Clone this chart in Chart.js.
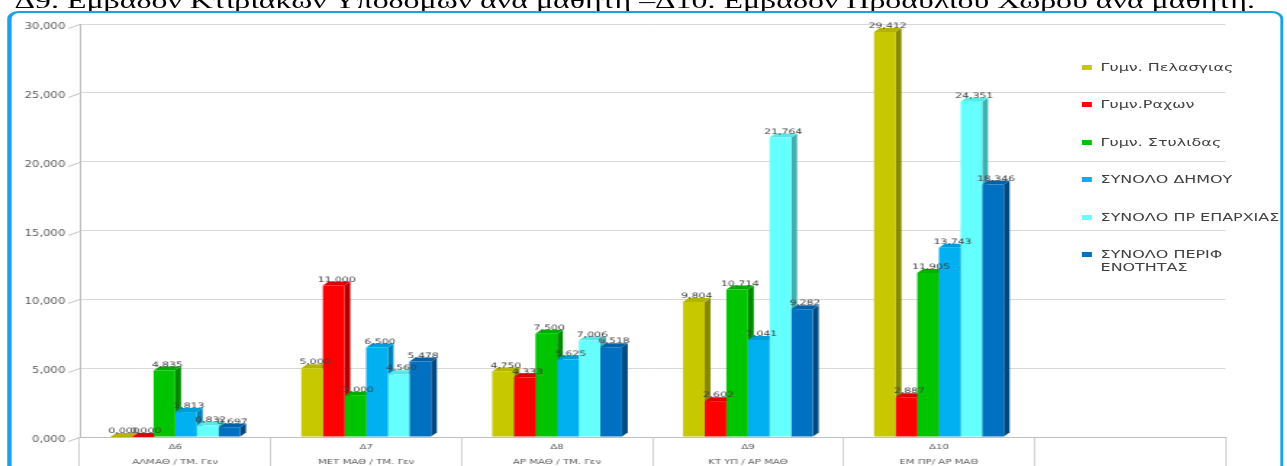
<!DOCTYPE html>
<html>
<head>
<meta charset="utf-8">
<script src="https://cdn.jsdelivr.net/npm/chart.js@4"></script>
<style>
  html, body { margin: 0; padding: 0; background: #fff; overflow: hidden; }
  #wrap { position: absolute; left: 0; top: 0; width: 888px; height: 466px;
          transform: scaleX(1.45); transform-origin: 0 0; }
  #title { position: absolute; left: 10px; top: -10px; white-space: nowrap;
           font-family: "Liberation Serif", serif; font-size: 22px; line-height: 22px; color: #000; }
  #frame { position: absolute; left: 5px; top: 11px; width: 875px; height: 520px;
           border: 2px solid #1ca0e6; border-left-width: 3px; border-radius: 8px; background: #fff; }
  #chart { position: absolute; left: 0; top: 0; }
  #legend { position: absolute; left: 746px; top: 61px; font-family: "DejaVu Sans", sans-serif;
            font-size: 11px; line-height: 13px; color: #404040; }
  .item { position: relative; height: 37.4px; padding-left: 13px; white-space: pre-line; }
  .mark { position: absolute; left: 0; top: 4px; width: 7px; height: 5px; }
</style>
</head>
<body>
<div id="wrap">
  <div id="title">Δ9. Εμβαδόν Κτιριακών Υποδομών ανά μαθητή –Δ10. Εμβαδόν Προαύλιου Χώρου ανά μαθητή.</div>
  <div id="frame"></div>
  <canvas id="chart" width="888" height="497"></canvas>
  <div id="legend"></div>
</div>
<script>
// categories (last slot is an empty box in the original)
const categories = [
    ['Δ6', 'ΑΛΜΑΘ / ΤΜ. Γεν'],
    ['Δ7', 'ΜΕΤ ΜΑΘ / ΤΜ. Γεν'],
    ['Δ8', 'ΑΡ ΜΑΘ / ΤΜ. Γεν'],
    ['Δ9', 'ΚΤ ΥΠ / ΑΡ ΜΑΘ'],
    ['Δ10', 'ΕΜ ΠΡ/ ΑΡ ΜΑΘ'],
    ['', '']
];
const seriesNames = ['Γυμν. Πελασγιας', 'Γυμν.Ραχων', 'Γυμν. Στυλιδας',
                     'ΣΥΝΟΛΟ ΔΗΜΟΥ', 'ΣΥΝΟΛΟ ΠΡ ΕΠΑΡΧΙΑΣ', 'ΣΥΝΟΛΟ ΠΕΡΙΦ\nΕΝΟΤΗΤΑΣ'];

const pelasgias = [0.000, 5.000, 4.750, 9.804, 29.412];
const rachon    = [0.000, 11.000, 4.333, 2.602, 2.887];
const stylidas  = [4.835, 3.000, 7.500, 10.714, 11.905];
const dimou     = [1.813, 6.500, 5.625, 7.041, 13.743];
const eparchias = [0.832, 4.560, 7.006, 21.764, 24.351];
const perif     = [0.697, 5.478, 6.518, 9.282, 18.346];

const yTicks = [0, 5, 10, 15, 20, 25, 30];

const frontColors = ['#c8c800', '#ff0000', '#00c400', '#00b0f0', '#66ffff', '#0070c0'];
const sideColors  = ['#878700', '#b00000', '#008a00', '#0082b4', '#3fb0b0', '#00487e'];
const topColors   = ['#b4b400', '#e00000', '#00ae00', '#009cd8', '#58e6e6', '#0062aa'];

const fmt = v => v.toFixed(3).replace('.', ',');
const DX = 4, DY = 4;

// fake 3D: side + top faces behind the flat bars, value labels on top
const bar3d = {
    id: 'bar3d',
    beforeDatasetsDraw(chart) {
        const ctx = chart.ctx;
        const ys = chart.scales.y, left = chart.chartArea.left;
        // slanted tick marks from the labels to the back wall
        ctx.save();
        ctx.strokeStyle = '#bfbfbf';
        ctx.lineWidth = 1;
        yTicks.forEach(v => {
            const py = Math.round(ys.getPixelForValue(v)) + 0.5;
            ctx.beginPath();
            ctx.moveTo(left - 8, py + 4);
            ctx.lineTo(left, py);
            ctx.stroke();
        });
        ctx.restore();
        chart.data.datasets.forEach((ds, di) => {
            chart.getDatasetMeta(di).data.forEach(bar => {
                const p = bar.getProps(['x', 'y', 'base', 'width'], true);
                const l = p.x - p.width / 2, r = p.x + p.width / 2;
                ctx.fillStyle = sideColors[di];
                ctx.beginPath();
                ctx.moveTo(r, p.y); ctx.lineTo(r + DX, p.y - DY);
                ctx.lineTo(r + DX, p.base - DY); ctx.lineTo(r, p.base);
                ctx.closePath(); ctx.fill();
                ctx.fillStyle = topColors[di];
                ctx.beginPath();
                ctx.moveTo(l, p.y); ctx.lineTo(l + DX, p.y - DY);
                ctx.lineTo(r + DX, p.y - DY); ctx.lineTo(r, p.y);
                ctx.closePath(); ctx.fill();
            });
        });
    },
    afterDatasetsDraw(chart) {
        const ctx = chart.ctx;
        ctx.save();
        ctx.font = '7.5px "DejaVu Sans"';
        ctx.fillStyle = '#404040';
        ctx.textAlign = 'center';
        ctx.textBaseline = 'bottom';
        chart.data.datasets.forEach((ds, di) => {
            chart.getDatasetMeta(di).data.forEach((bar, i) => {
                const v = ds.data[i];
                if (v == null) return;
                ctx.fillText(fmt(v), bar.x + DX / 2, bar.y - 2);
            });
        });
        ctx.restore();
    }
};

const seriesData = [pelasgias, rachon, stylidas, dimou, eparchias, perif];

const chart = new Chart(document.getElementById('chart').getContext('2d'), {
    type: 'bar',
    data: {
        labels: categories,
        datasets: seriesData.map((d, i) => ({
            label: seriesNames[i],
            data: d,
            backgroundColor: frontColors[i],
            borderWidth: 0,
            categoryPercentage: 0.68,
            barPercentage: 1.0
        }))
    },
    options: {
        responsive: false,
        animation: false,
        layout: { padding: { left: 0, right: 43, top: 24, bottom: 0 } },
        plugins: { legend: { display: false }, tooltip: { enabled: false } },
        scales: {
            x: {
                offset: true,
                grid: { offset: true, drawOnChartArea: false, tickLength: 30, color: '#d0d0d0' },
                border: { display: true, color: '#bfbfbf' },
                ticks: { padding: -27, autoSkip: false, maxRotation: 0, color: '#595959',
                         font: { family: 'DejaVu Sans', size: 7, lineHeight: 2.1 } },
                afterFit: s => { s.height = 60; }
            },
            y: {
                min: 0, max: 30,
                afterBuildTicks: s => { s.ticks = yTicks.map(v => ({ value: v })); },
                grid: { color: '#d9d9d9', drawTicks: false },
                border: { display: true, color: '#bfbfbf' },
                ticks: { padding: 10, labelOffset: 3, color: '#595959', callback: v => fmt(v),
                         font: { family: 'DejaVu Sans', size: 8 } },
                afterFit: s => { s.width = 55; }
            }
        }
    },
    plugins: [bar3d]
});

// legend built from the datasets
const legend = document.getElementById('legend');
chart.data.datasets.forEach(ds => {
    const item = document.createElement('div');
    item.className = 'item';
    const mark = document.createElement('span');
    mark.className = 'mark';
    mark.style.background = ds.backgroundColor;
    item.appendChild(mark);
    item.appendChild(document.createTextNode(ds.label));
    legend.appendChild(item);
});
</script>
</body>
</html>
